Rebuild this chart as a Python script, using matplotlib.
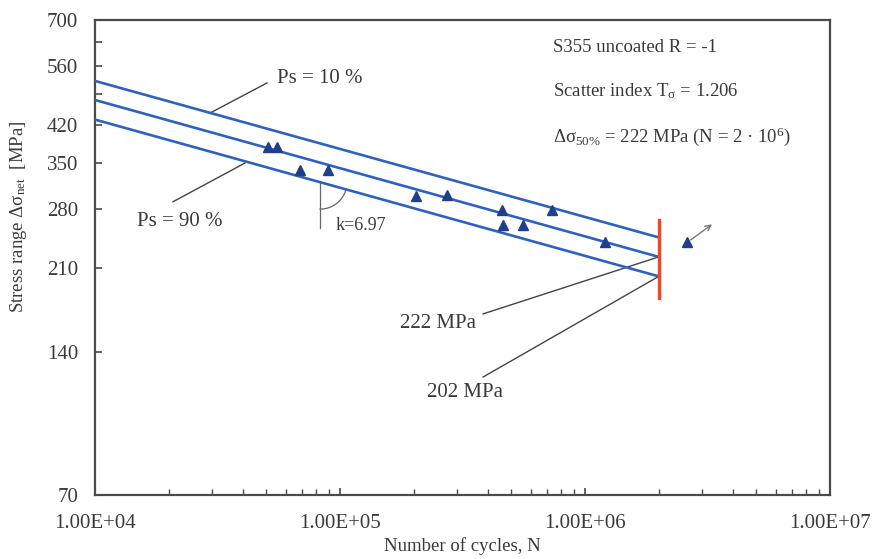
import numpy as np
import matplotlib
matplotlib.use("Agg")
import matplotlib.pyplot as plt
from matplotlib.ticker import FixedLocator, FixedFormatter, LogLocator, NullFormatter

plt.rcParams['font.family'] = ['Liberation Serif', 'DejaVu Serif']
plt.rcParams['mathtext.fontset'] = 'custom'
plt.rcParams['mathtext.rm'] = 'Liberation Serif'
plt.rcParams['mathtext.it'] = 'Liberation Serif'

# test results (cycles to failure, stress range)
cycles = [50800, 55300, 68700, 89300, 204000, 273500, 458000, 463000,
          558000, 733000, 1207000]
stress = [378, 378, 338, 338, 298, 300, 279, 259, 259, 279, 239]
runout_n = [2608000]
runout_s = [239]

# S-N curves, k = 6.97, drawn between N = 1e4 and 2e6
line_n = [1e4, 2e6]
ps10 = [521, 244]
ps50 = [475, 222]
ps90 = [432, 202]

y_ticks = [70, 140, 210, 280, 350, 420, 490, 560, 630, 700]
y_labels = ['70', '140', '210', '280', '350', '420', '', '560', '', '700']
x_ticks = [1e4, 1e5, 1e6, 1e7]
x_labels = ['1.00E+04', '1.00E+05', '1.00E+06', '1.00E+07']

txt = '#3a3a3a'
blue = '#2f62c0'
frame = '#4a4a4a'

fig = plt.figure(figsize=(8.72, 5.59), dpi=100)
ax = fig.add_axes([95 / 872, 1 - 495 / 559, 735 / 872, 475 / 559])
ax.set_xscale('log')
ax.set_yscale('log')
ax.set_xlim(1e4, 1e7)
ax.set_ylim(70, 700)

for s in (ps10, ps50, ps90):
    ax.plot(line_n, s, color=blue, lw=1.9, zorder=3)

ax.plot(cycles, stress, '^', color='#1f3f8c', ms=6.5, zorder=4)
ax.plot(runout_n, runout_s, '^', color='#1f3f8c', ms=6.5, zorder=4)
ax.annotate('', xy=(3.3e6, 260), xytext=(2.7e6, 241),
            arrowprops=dict(arrowstyle='->', color='#777777', lw=1.0,
                            shrinkA=0, shrinkB=0))

# vertical mark at N = 2e6
ax.plot([2e6, 2e6], [182, 265], color='#e8482e', lw=2.4, zorder=5)

# leader lines and labels
gray = '#444444'
ax.plot([50400, 29500], [516, 446], color=gray, lw=1.0)
ax.text(55300, 528, 'Ps = 10 %', fontsize=15, color=txt, va='center')
ax.plot([20800, 40970], [290, 350], color=gray, lw=1.0)
ax.text(14800, 263, 'Ps = 90 %', fontsize=15, color=txt, va='center')
ax.plot([383600, 2e6], [168.4, 222], color=gray, lw=1.0)
ax.text(175700, 161, '222 MPa', fontsize=15, color=txt, va='center')
ax.plot([383600, 2e6], [124, 202], color=gray, lw=1.0)
ax.text(226600, 114.8, '202 MPa', fontsize=15, color=txt, va='center')

# slope mark k
ax.plot([82900, 82900], [319, 255.5], color='#666666', lw=0.9)
fig.canvas.draw()
cx, cy = ax.transData.transform((82900, 319))
ang = np.radians(np.linspace(-90, -15, 40))
pts = np.column_stack([cx + 27 * np.cos(ang), cy + 27 * np.sin(ang)])
arc = ax.transData.inverted().transform(pts)
ax.plot(arc[:, 0], arc[:, 1], color='#666666', lw=0.9)
ax.text(96300, 259, 'k=6.97', fontsize=13, color=txt, va='center')

# info block
ax.text(0.623, 0.943, 'S355 uncoated R = -1', transform=ax.transAxes,
        fontsize=13.5, color=txt, va='center')
ax.text(0.623, 0.851, r'Scatter index T$_{\sigma}$ = 1.206', transform=ax.transAxes,
        fontsize=13.5, color=txt, va='center')
ax.text(0.623, 0.754, r'Δσ$_{50\%}$ = 222 MPa (N = 2 · 10$^{6}$)',
        transform=ax.transAxes, fontsize=13.5, color=txt, va='center')

ax.yaxis.set_major_locator(FixedLocator(y_ticks))
ax.yaxis.set_major_formatter(FixedFormatter(y_labels))
ax.yaxis.set_minor_locator(FixedLocator([]))
ax.xaxis.set_major_locator(FixedLocator(x_ticks))
ax.xaxis.set_major_formatter(FixedFormatter(x_labels))
ax.xaxis.set_minor_locator(LogLocator(base=10, subs=np.arange(2, 10)))
ax.xaxis.set_minor_formatter(NullFormatter())

ax.tick_params(axis='both', which='both', direction='in', colors=frame,
               labelcolor=txt, labelsize=15, top=False, right=False)
ax.tick_params(axis='both', which='major', length=5, width=1.2)
ax.tick_params(axis='x', which='minor', length=4, width=1.0)
ax.tick_params(axis='x', which='major', pad=14)
ax.tick_params(axis='y', which='major', pad=12)

for sp in ax.spines.values():
    sp.set_color(frame)
    sp.set_linewidth(1.6)

ax.set_xlabel('Number of cycles, N', fontsize=13.5, color=txt, labelpad=3)
ax.set_ylabel(r'Stress range Δσ$_{\mathrm{net}}$  [MPa]', fontsize=13.5,
              color=txt, labelpad=4)
ax.yaxis.set_label_coords(-0.09, 0.585)

fig.savefig('out.png', dpi=100)
